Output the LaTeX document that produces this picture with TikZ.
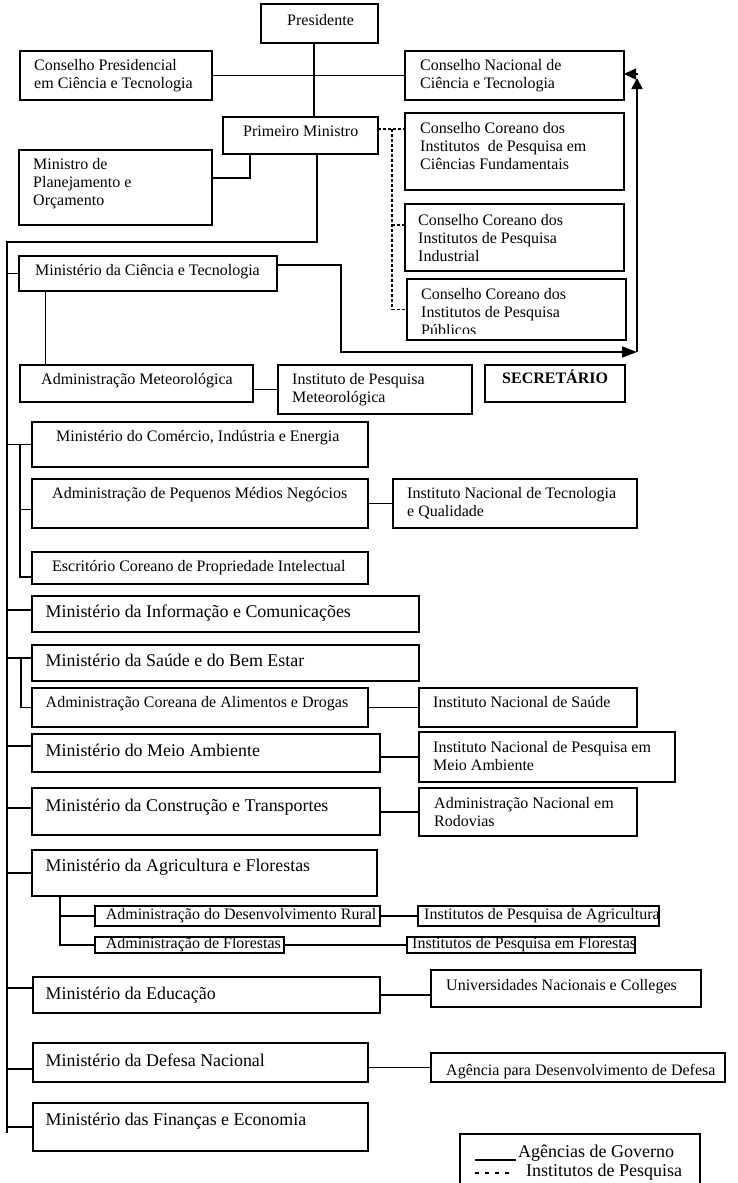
\documentclass[tikz,border=0pt]{standalone}
\usepackage{fontspec}
\setmainfont{Liberation Serif}
\usetikzlibrary{arrows.meta,calc}
\newcommand\fa{\fontsize{16}{18}\selectfont}
\newcommand\fb{\fontsize{17.9}{20}\selectfont}
\newcommand\fleg{\fontsize{18}{20}\selectfont}
\newcommand\bx[5]{\node[box,minimum width={(#4-#2)*1pt},minimum height={(#5-#3)*1pt}] (#1) at (#2,#3) {};}
\begin{document}
\begin{tikzpicture}[x=1pt,y=-1pt,
 box/.style={draw,line width=1.4pt,inner sep=0pt,outer sep=0pt,anchor=north west},
 ln/.style={line width=1.5pt},
 dsh/.style={line width=1.3pt,dash pattern=on 3pt off 2pt},
 ts/.style={inner sep=0pt,anchor=west,font=\fa,text height=11pt,text depth=3.5pt},
 tb/.style={inner sep=0pt,anchor=west,font=\fb,text height=12.3pt,text depth=3.9pt},
 tm/.style={inner sep=0pt,anchor=west,font=\fa,align=left},
 tl/.style={inner sep=0pt,anchor=west,font=\fleg,text height=12.5pt,text depth=4pt}]
\useasboundingbox[fill=white] (0,0) rectangle (737,1183);

% boxes
\bx{pres}{261}{4}{378}{43}
\bx{cpct}{20}{51}{212}{100}
\bx{cnct}{405}{51}{624}{100}
\bx{pm}{223}{117}{378}{154}
\bx{cc1}{405}{113}{624}{190}
\bx{mpo}{19}{150}{212}{225}
\bx{cc2}{405}{204}{624}{271}
\bx{cc3}{407}{279}{626}{340}
\bx{mct}{19}{256}{277}{291}
\bx{adm}{20}{365}{253}{402}
\bx{ipm}{278}{365}{472}{414}
\bx{sec}{485}{365}{625}{402}
\bx{mcie}{32}{422}{368}{467}
\bx{apmn}{32}{479}{368}{528}
\bx{intq}{393}{479}{637}{528}
\bx{ecpi}{32}{552}{368}{584}
\bx{mic}{32}{596}{419}{632}
\bx{msbe}{32}{645}{419}{681}
\bx{acad}{32}{688}{368}{727}
\bx{ins}{419}{688}{637}{727}
\bx{mma}{32}{734}{380}{772}
\bx{inpma}{419}{732}{675}{782}
\bx{mcot}{32}{788}{380}{835}
\bx{anr}{419}{788}{637}{836}
\bx{maf}{32}{850}{377}{896}
\bx{adr}{95}{906}{380}{926}
\bx{ipa}{418}{906}{659}{926}
\bx{af}{95}{937}{284}{953}
\bx{ipf}{407}{937}{635}{953}
\bx{med}{33}{977}{380}{1013}
\bx{unc}{431}{970}{701}{1007}
\bx{mdn}{33}{1043}{368}{1082}
\bx{add}{431}{1053}{725}{1082}
\bx{mfe}{33}{1103}{368}{1151}
\bx{leg}{460}{1134}{700}{1190}

% texts
\node[ts] (t-pres) at (287,22) {Presidente};
\node[tm] (t-cpct) at (34,76) {Conselho Presidencial\\em Ciência e Tecnologia};
\node[tm] (t-cnct) at (420,76) {Conselho Nacional de\\Ciência e Tecnologia};
\node[ts] (t-pm) at (243,133) {Primeiro Ministro};
\node[tm] (t-cc1) at (420,146) {Conselho Coreano dos\\Institutos\ \ de Pesquisa em\\Ciências Fundamentais};
\node[tm] (t-mpo) at (33,184) {Ministro de\\Planejamento e\\Orçamento};
\node[tm] (t-cc2) at (418,238) {Conselho Coreano dos\\Institutos de Pesquisa\\Industrial};
\begin{scope}
\clip (405,279) rectangle (626,333);
\node[tm] (t-cc3) at (421,312) {Conselho Coreano dos\\Institutos de Pesquisa\\Públicos};
\end{scope}
\node[ts] (t-mct) at (35,272) {Ministério da Ciência e Tecnologia};
\node[ts] (t-adm) at (41,381) {Administração Meteorológica};
\node[tm] (t-ipm) at (292,390) {Instituto de Pesquisa\\Meteorológica};
\node[ts,font=\fa\bfseries] (t-sec) at (502,380) {SECRETÁRIO};
\node[ts] (t-mcie) at (56,438) {Ministério do Comércio, Indústria e Energia};
\node[ts] (t-apmn) at (52,495) {Administração de Pequenos Médios Negócios};
\node[tm] (t-intq) at (407,503.5) {Instituto Nacional de Tecnologia\\e Qualidade};
\node[ts] (t-ecpi) at (52,568) {Escritório Coreano de Propriedade Intelectual};
\node[tb] (t-mic) at (45.5,613) {Ministério da Informação e Comunicações};
\node[tb] (t-msbe) at (45.5,662) {Ministério da Saúde e do Bem Estar};
\node[ts] (t-acad) at (45.5,704) {Administração Coreana de Alimentos e Drogas};
\node[ts] (t-ins) at (433,704) {Instituto Nacional de Saúde};
\node[tb] (t-mma) at (45.5,752) {Ministério do Meio Ambiente};
\node[tm] (t-inpma) at (433,756) {Instituto Nacional de Pesquisa em\\Meio Ambiente};
\node[tb] (t-mcot) at (45.5,807) {Ministério da Construção e Transportes};
\node[tm] (t-anr) at (434,812.5) {Administração Nacional em\\Rodovias};
\node[tb] (t-maf) at (45.5,867) {Ministério da Agricultura e Florestas};
\node[ts] (t-adr) at (105.6,916) {Administração do Desenvolvimento Rural};
\node[ts] (t-ipa) at (424,916) {Institutos de Pesquisa de Agricultura};
\node[ts] (t-af) at (105.6,945) {Administração de Florestas};
\node[ts] (t-ipf) at (412,945) {Institutos de Pesquisa em Florestas};
\node[tb] (t-med) at (45.5,995) {Ministério da Educação};
\node[ts] (t-unc) at (446,987) {Universidades Nacionais e Colleges};
\node[tb] (t-mdn) at (45.5,1062) {Ministério da Defesa Nacional};
\node[ts] (t-add) at (446,1072) {Agência para Desenvolvimento de Defesa};
\node[tb] (t-mfe) at (45.5,1121) {Ministério das Finanças e Economia};
\node[tl] (t-lg1) at (518,1153) {Agências de Governo};
\node[tl] (t-lg2) at (526,1172) {Institutos de Pesquisa};

% reference coordinates
\coordinate (cA) at (314,0);
\coordinate (cB) at (317,0);
\coordinate (cC) at (250,0);
\coordinate (cD) at (45.5,0);
\coordinate (cE) at (20,0);
\coordinate (cF) at (21,0);
\coordinate (cG) at (60,0);
\coordinate (sp0) at (7,242);
\coordinate (spE) at (7,1133);
\coordinate (d0) at (392,129);
\coordinate (ar0) at (341,352);
\coordinate (ar1) at (637,352);
\coordinate (ar2) at (637,78);
\coordinate (ar3) at (638,74);

% connectors top
\draw[ln] (pres.south -| cA) -- (pm.north -| cA);
\draw[ln] (cpct.east) -- (cnct.west);
\draw[ln] (pm.south -| cC) |- ([yshift=9.5pt]mpo.east);
\draw[ln] (pm.south -| cB) |- (sp0) -- (spE);
\draw[dsh] ([yshift=6.5pt]pm.east) -- ([yshift=6.5pt]pm.east -| cc1.west);
\draw[dsh] (d0) -- (d0 |- cc3.west) -- (cc3.west);
\draw[dsh] ([yshift=12.5pt]cc2.west -| d0) -- ([yshift=12.5pt]cc2.west);
\draw[ln] (sp0 |- mct.west) -- (mct.west);
\draw[ln,-{Triangle[length=15pt,width=11pt]}] ([yshift=8.5pt]mct.east) -| (ar0) -- (ar1);
\draw[ln,-{Triangle[length=11pt,width=11pt]}] (ar1) -- (ar2);
\draw[ln,-{Triangle[length=12pt,width=11pt]}] (ar3) -- (ar3 -| cnct.east);
\draw[ln] (mct.south -| cD) -- (adm.north -| cD);
\draw[ln] (adm.east |- ipm.west) -- (ipm.west);

% commerce group
\draw[ln] (sp0 |- mcie.west) -- (mcie.west);
\draw[ln] (mcie.west -| cE) |- ([yshift=-9pt]ecpi.west);
\draw[ln] ([yshift=-6pt]apmn.west -| cE) -- ([yshift=-6pt]apmn.west);
\draw[ln] (apmn.east) -- (intq.west);

% other ministries
\draw[ln] ([yshift=4pt]mic.west -| sp0) -- ([yshift=4pt]mic.west);
\draw[ln] ([yshift=5pt]msbe.west -| sp0) -- ([yshift=5pt]msbe.west);
\draw[ln] ([yshift=5pt]msbe.west -| cF) |- (acad.west);
\draw[ln] (acad.east) -- (ins.west);
\draw[ln] ([yshift=7pt]mma.west -| sp0) -- ([yshift=7pt]mma.west);
\draw[ln] (mma.east |- inpma.west) -- (inpma.west);
\draw[ln] ([yshift=3.5pt]mcot.west -| sp0) -- ([yshift=3.5pt]mcot.west);
\draw[ln] (mcot.east |- anr.west) -- (anr.west);
\draw[ln] (sp0 |- maf.west) -- (maf.west);
\draw[ln] (maf.south -| cG) |- (af.west);
\draw[ln] (adr.west -| cG) -- (adr.west);
\draw[ln] (adr.east) -- (ipa.west);
\draw[ln] (af.east) -- (ipf.west);
\draw[ln] ([yshift=7pt]med.west -| sp0) -- ([yshift=7pt]med.west);
\draw[ln] (med.east) -- (med.east -| unc.west);
\draw[ln] ([yshift=-6.5pt]mdn.west -| sp0) -- ([yshift=-6.5pt]mdn.west);
\draw[ln] (mdn.east |- add.west) -- (add.west);
\draw[ln] (sp0 |- mfe.west) -- (mfe.west);

% legend samples
\coordinate (lg1a) at (475,1160);
\coordinate (lg1b) at (516,1160);
\coordinate (lg2a) at (475,1173);
\coordinate (lg2b) at (513,1173);
\draw[ln] (lg1a) -- (lg1b);
\draw[line width=1.3pt,dash pattern=on 4pt off 6pt] (lg2a) -- (lg2b);
\end{tikzpicture}
\end{document}
